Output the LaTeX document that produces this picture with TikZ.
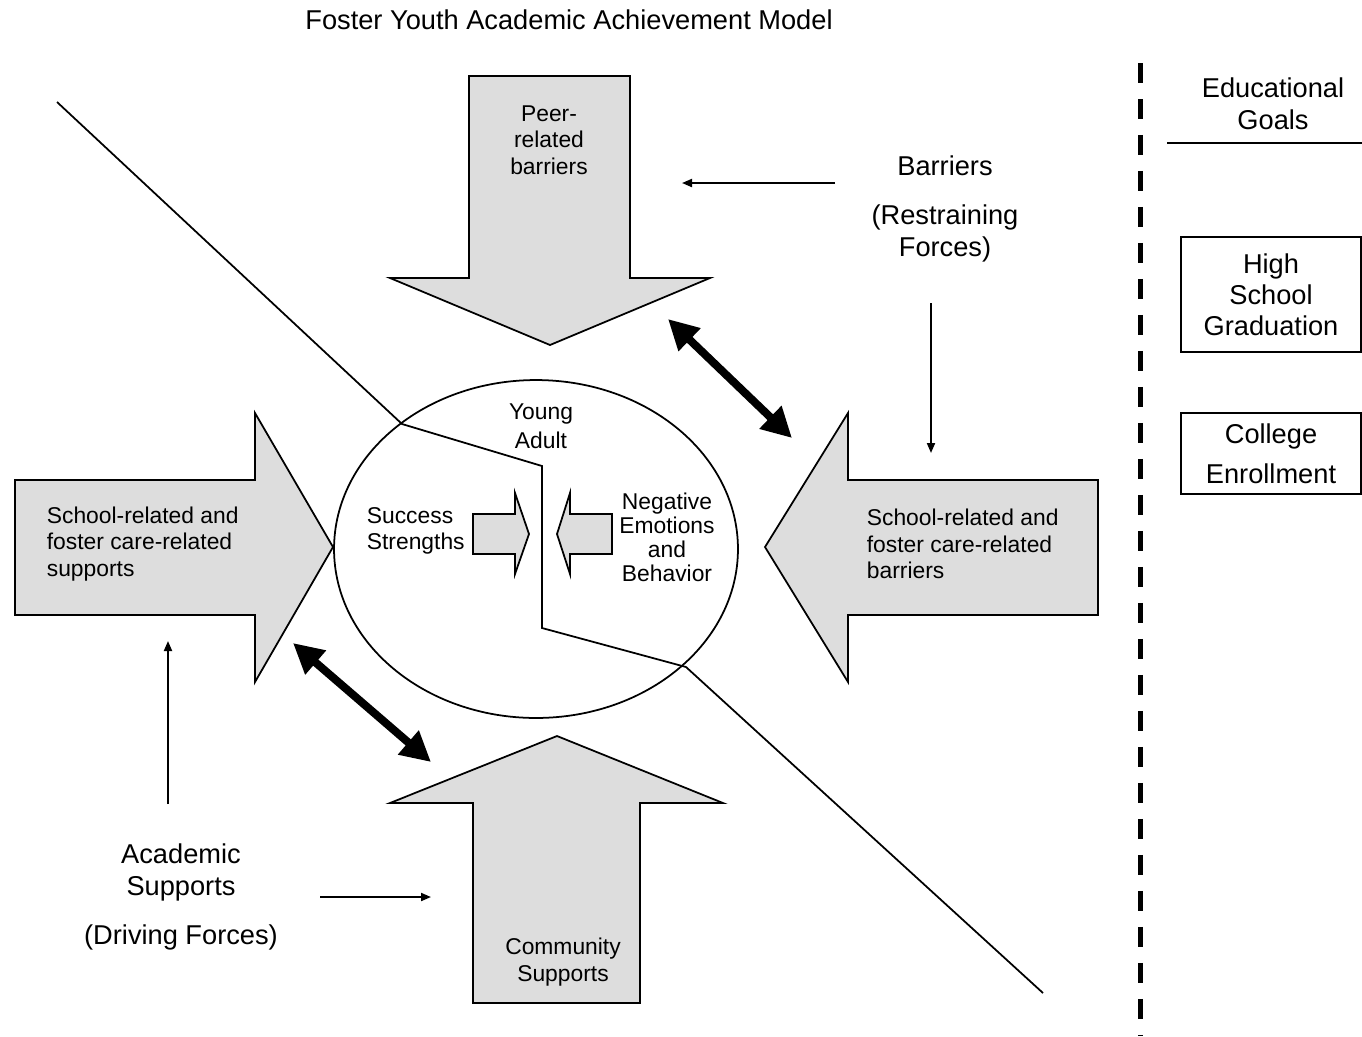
\documentclass[tikz,border=0pt]{standalone}
\usepackage{fontspec}
\setmainfont{Liberation Sans}
\usetikzlibrary{arrows.meta}
\definecolor{arrowgray}{HTML}{DDDDDD}

\begin{document}
\begin{tikzpicture}[x=0.02cm,y=-0.02cm,line width=1pt,
    force arrow/.style={draw,fill=arrowgray},
    small txt/.style={inner sep=0pt,align=center,font=\fontsize{13}{15}\selectfont},
    big txt/.style={inner sep=0pt,align=center,font=\fontsize{15.5}{18}\selectfont},
    thin arrow/.style={-{Triangle[length=0.2cm,width=0.16cm]},line width=1.1pt},
    push arrow/.style={{Triangle[length=0.6cm,width=0.6cm]}-{Triangle[length=0.6cm,width=0.6cm]},line width=0.16cm},
    goal box/.style={draw,big txt,line width=0.8pt,minimum width=3.6cm}]
    \useasboundingbox (0,0) rectangle (1362,1036);

    % big force arrows
    \draw[force arrow] (469,76) -- (630,76) -- (630,278) -- (710,278) -- (550,345) -- (390,278) -- (469,278) -- cycle;
    \draw[force arrow] (15,480) -- (255,480) -- (255,413) -- (333,547) -- (255,682) -- (255,615) -- (15,615) -- cycle;
    \draw[force arrow] (1098,480) -- (848,480) -- (848,413) -- (765,547) -- (848,682) -- (848,615) -- (1098,615) -- cycle;
    \draw[force arrow] (473,1003) -- (640,1003) -- (640,803) -- (723,803) -- (557,736) -- (390,803) -- (473,803) -- cycle;

    % young adult
    \draw (536,549) ellipse [x radius=4.04cm,y radius=3.38cm];
    \draw (57,102) -- (402,424) -- (542,466) -- (542,628) -- (686,667) -- (1043,993);
    \draw[force arrow] (473,514) -- (515,514) -- (515,493) -- (529,534) -- (515,574) -- (515,554) -- (473,554) -- cycle;
    \draw[force arrow] (612,514) -- (570,514) -- (570,493) -- (557,534) -- (570,574) -- (570,554) -- (612,554) -- cycle;

    \node[big txt] (title) at (569,20) {Foster Youth Academic Achievement Model};
    \node[small txt] (peer) at (549,140) {Peer-\\related\\barriers};
    \node[small txt,anchor=west,align=left] (supports) at (46,544) {School-related and\\foster care-related\\supports};
    \node[small txt,anchor=west,align=left] (barriers) at (866,544) {School-related and\\foster care-related\\barriers};
    \node[small txt] (community) at (563,962) {Community\\Supports};
    \node[small txt,font=\fontsize{13}{16.4}\selectfont] (young) at (541,426) {Young\\Adult};
    \node[small txt,anchor=west,align=left] (success) at (366,531) {Success\\Strengths};
    \node[small txt,font=\fontsize{13}{13.6}\selectfont] (negative) at (667,537) {Negative\\Emotions\\and\\Behavior};

    \node[big txt] (restrain) at (945,209) {Barriers\\[9.7pt](Restraining\\Forces)};
    \node[big txt] (driving) at (181,897) {Academic\\Supports\\[9.7pt](Driving Forces)};

    % thin arrows
    \coordinate (r1) at (835,183);
    \coordinate (r2) at (682,183);
    \coordinate (r3) at (931,303);
    \coordinate (r4) at (931,453);
    \coordinate (d1) at (168,804);
    \coordinate (d2) at (168,641);
    \coordinate (d3) at (320,897);
    \coordinate (d4) at (431,897);
    \draw[thin arrow] (r1) -- (r2);
    \draw[thin arrow] (r3) -- (r4);
    \draw[thin arrow] (d1) -- (d2);
    \draw[thin arrow] (d3) -- (d4);

    % interaction arrows
    \coordinate (p1) at (668,319);
    \coordinate (p2) at (792,438);
    \coordinate (p3) at (293,643);
    \coordinate (p4) at (431,762);
    \draw[push arrow] (p1) -- (p2);
    \draw[push arrow] (p3) -- (p4);

    % goals
    \draw[line width=0.1cm,dash pattern=on 0.4cm off 0.32cm] (1140,63) -- (1140,1036);
    \node[big txt] (goals) at (1273,104) {Educational\\Goals};
    \draw (1167,143) -- (1362,143);
    \node[goal box,minimum height=2.3cm,font=\fontsize{15.5}{17.6}\selectfont] (hs) at (1271,294.5) {High\\School\\Graduation};
    \node[goal box,minimum height=1.62cm,font=\fontsize{15.5}{22.7}\selectfont] (college) at (1271,453.5) {College\\Enrollment};
\end{tikzpicture}
\end{document}
